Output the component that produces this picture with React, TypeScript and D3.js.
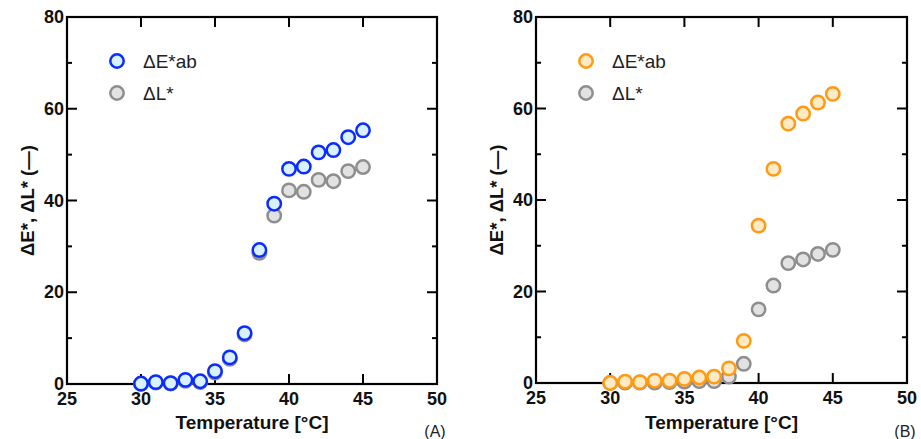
import React from "react";
import * as d3 from "d3";

const temps = [30, 31, 32, 33, 34, 35, 36, 37, 38, 39, 40, 41, 42, 43, 44, 45];
const aDeltaE = [0.1, 0.4, 0.2, 0.9, 0.6, 2.8, 5.8, 11.1, 29.2, 39.3, 46.9, 47.4, 50.5, 51.0, 53.8, 55.3];
const aDeltaL = [0.0, 0.3, 0.1, 0.7, 0.4, 2.5, 5.5, 10.8, 28.6, 36.7, 42.2, 41.9, 44.5, 44.2, 46.4, 47.3];
const bDeltaE = [0.0, 0.3, 0.2, 0.5, 0.5, 0.9, 1.2, 1.4, 3.2, 9.2, 34.4, 46.8, 56.7, 58.9, 61.3, 63.2];
const bDeltaL = [0.0, 0.1, 0.1, 0.1, 0.2, 0.3, 0.4, 0.4, 1.4, 4.2, 16.1, 21.3, 26.2, 27.0, 28.2, 29.1];

const xTicks = [25, 30, 35, 40, 45, 50];
const yMajor = [0, 20, 40, 60, 80];
const yMinor = [10, 30, 50, 70];
const legendLabels = ["ΔE*ab", "ΔL*"];

const FONT = "Liberation Sans, Arial, Helvetica, sans-serif";

type PanelProps = {
  left: number;
  right: number;
  top: number;
  bottom: number;
  e: number[];
  l: number[];
  eStroke: string;
  eFill: string;
  tag: string;
};

const grayStroke = "#8e8e8e";
const grayFill = "#e2e2e2";

function Panel({ left, right, top, bottom, e, l, eStroke, eFill, tag }: PanelProps) {
  const x = d3.scaleLinear().domain([25, 50]).range([left, right]);
  const y = d3.scaleLinear().domain([0, 80]).range([bottom, top]);
  const r = 6.7;
  const sw = 2.5;
  const major = 10;
  const minor = 5;
  return (
    <g>
      {xTicks.map((t) => (
        <g key={"xt" + t}>
          <line x1={x(t)} x2={x(t)} y1={bottom} y2={bottom - major} stroke="#000" strokeWidth={2} />
          <line x1={x(t)} x2={x(t)} y1={top} y2={top + major} stroke="#000" strokeWidth={2} />
          <text x={x(t)} y={bottom + 21} textAnchor="middle" fontFamily={FONT} fontWeight="bold" fontSize={18} fill="#111">
            {t}
          </text>
        </g>
      ))}
      {yMajor.map((t) => (
        <g key={"ym" + t}>
          <line x1={left} x2={left + major} y1={y(t)} y2={y(t)} stroke="#000" strokeWidth={2} />
          <line x1={right} x2={right - major} y1={y(t)} y2={y(t)} stroke="#000" strokeWidth={2} />
          <text x={left - 3} y={y(t) + 6} textAnchor="end" fontFamily={FONT} fontWeight="bold" fontSize={18} fill="#111">
            {t}
          </text>
        </g>
      ))}
      {yMinor.map((t) => (
        <g key={"yn" + t}>
          <line x1={left} x2={left + minor} y1={y(t)} y2={y(t)} stroke="#000" strokeWidth={2} />
          <line x1={right} x2={right - minor} y1={y(t)} y2={y(t)} stroke="#000" strokeWidth={2} />
        </g>
      ))}
      <rect x={left} y={top} width={right - left} height={bottom - top} fill="none" stroke="#000" strokeWidth={2.2} />
      {temps.map((t, i) => (
        <circle key={"l" + t} cx={x(t)} cy={y(l[i])} r={r} fill={grayFill} stroke={grayStroke} strokeWidth={sw} />
      ))}
      {temps.map((t, i) => (
        <circle key={"e" + t} cx={x(t)} cy={y(e[i])} r={r} fill={eFill} stroke={eStroke} strokeWidth={sw} />
      ))}
      <circle cx={left + 50} cy={61} r={r} fill={eFill} stroke={eStroke} strokeWidth={sw} />
      <text x={left + 76} y={68} fontFamily={FONT} fontSize={19} fill="#222">{legendLabels[0]}</text>
      <circle cx={left + 50} cy={93} r={r} fill={grayFill} stroke={grayStroke} strokeWidth={sw} />
      <text x={left + 76} y={100} fontFamily={FONT} fontSize={19} fill="#222">{legendLabels[1]}</text>
      <text x={(left + right) / 2} y={429} textAnchor="middle" fontFamily={FONT} fontWeight="bold" fontSize={19} fill="#111">
        Temperature [°C]
      </text>
      <text
        transform={`translate(${left - 33},${(top + bottom) / 2}) rotate(-90)`}
        textAnchor="middle"
        fontFamily={FONT}
        fontWeight="bold"
        fontSize={18.5}
        fill="#111"
      >
        ΔE*, ΔL* (—)
      </text>
      <text x={right - 2} y={437} textAnchor="middle" fontFamily={FONT} fontSize={16} fill="#222">
        {tag}
      </text>
    </g>
  );
}

export default function App() {
  return (
    <svg width={921} height={439} style={{ position: "absolute", left: 0, top: 0, background: "#fff" }}>
      <rect width={921} height={439} fill="#fff" />
      <Panel left={67} right={437} top={17} bottom={384} e={aDeltaE} l={aDeltaL} eStroke="#0a2cff" eFill="#d8f1fd" tag="(A)" />
      <Panel left={536} right={907} top={17} bottom={383} e={bDeltaE} l={bDeltaL} eStroke="#ff9a12" eFill="#feeac4" tag="(B)" />
    </svg>
  );
}
